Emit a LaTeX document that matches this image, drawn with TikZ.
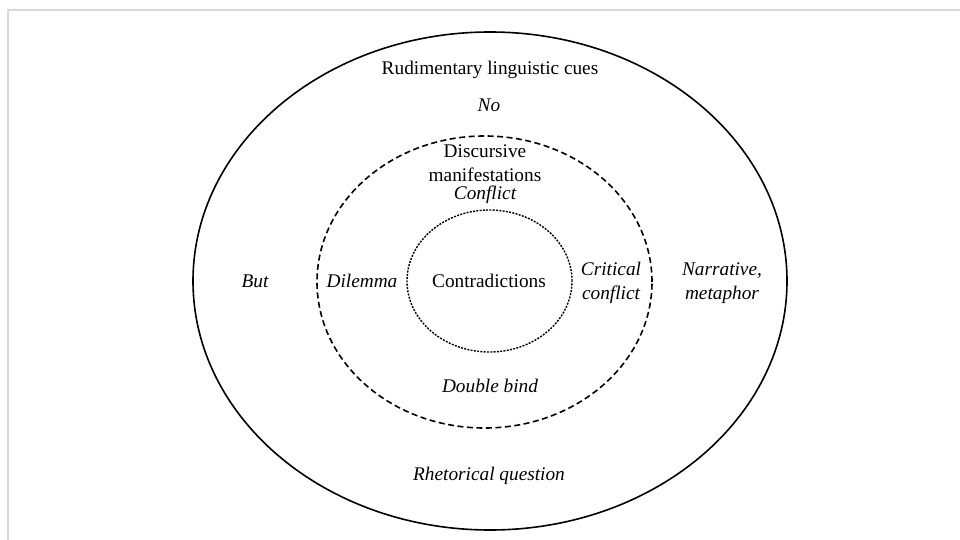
\documentclass[tikz,border=0pt]{standalone}
\usepackage{fontspec}
\setmainfont{Liberation Serif}
\usetikzlibrary{shapes.geometric}
\begin{document}
\begin{tikzpicture}[x=1pt,y=-1pt,
  ring/.style={ellipse,inner sep=0pt,line width=1.6pt,draw=black},
  lbl/.style={font=\fontsize{19.3}{23.5}\selectfont,text=black,align=center,inner sep=0pt},
  ilbl/.style={lbl,font=\fontsize{19.3}{23.5}\selectfont\itshape},
  frameline/.style={draw=black!15,line width=1.8pt}]
\useasboundingbox (0,0) rectangle (960,540);
\coordinate (fa) at (960,10);
\coordinate (fb) at (8,10);
\coordinate (fc) at (8,540);
\draw[frameline] (fa) -- (fb) -- (fc);
\node[ring,minimum width=594,minimum height=498] (outer) at (490,281) {};
\node[ring,dash pattern=on 6pt off 3.5pt,minimum width=335,minimum height=292] (mid) at (484.5,282) {};
\node[ring,line width=1.4pt,dash pattern=on 2pt off 1.3pt,minimum width=165,minimum height=142] (inner) at (489.5,281) {};
\node[lbl] (cues) at (490,70) {Rudimentary linguistic cues};
\node[ilbl] (no) at (489,105) {No};
\node[lbl] (disc) at (485,163) {Discursive\\manifestations};
\node[ilbl] (conf) at (485,195) {Conflict};
\node[lbl] (contr) at (489,281) {Contradictions};
\node[ilbl] (dil) at (362,281) {Dilemma};
\node[ilbl] (crit) at (611,283) {Critical\\conflict};
\node[ilbl] (but) at (255,281) {But};
\node[ilbl] (narr) at (722,283) {Narrative,\\metaphor};
\node[ilbl] (db) at (490,386) {Double bind};
\node[ilbl] (rq) at (489,476) {Rhetorical question};
\end{tikzpicture}
\end{document}
